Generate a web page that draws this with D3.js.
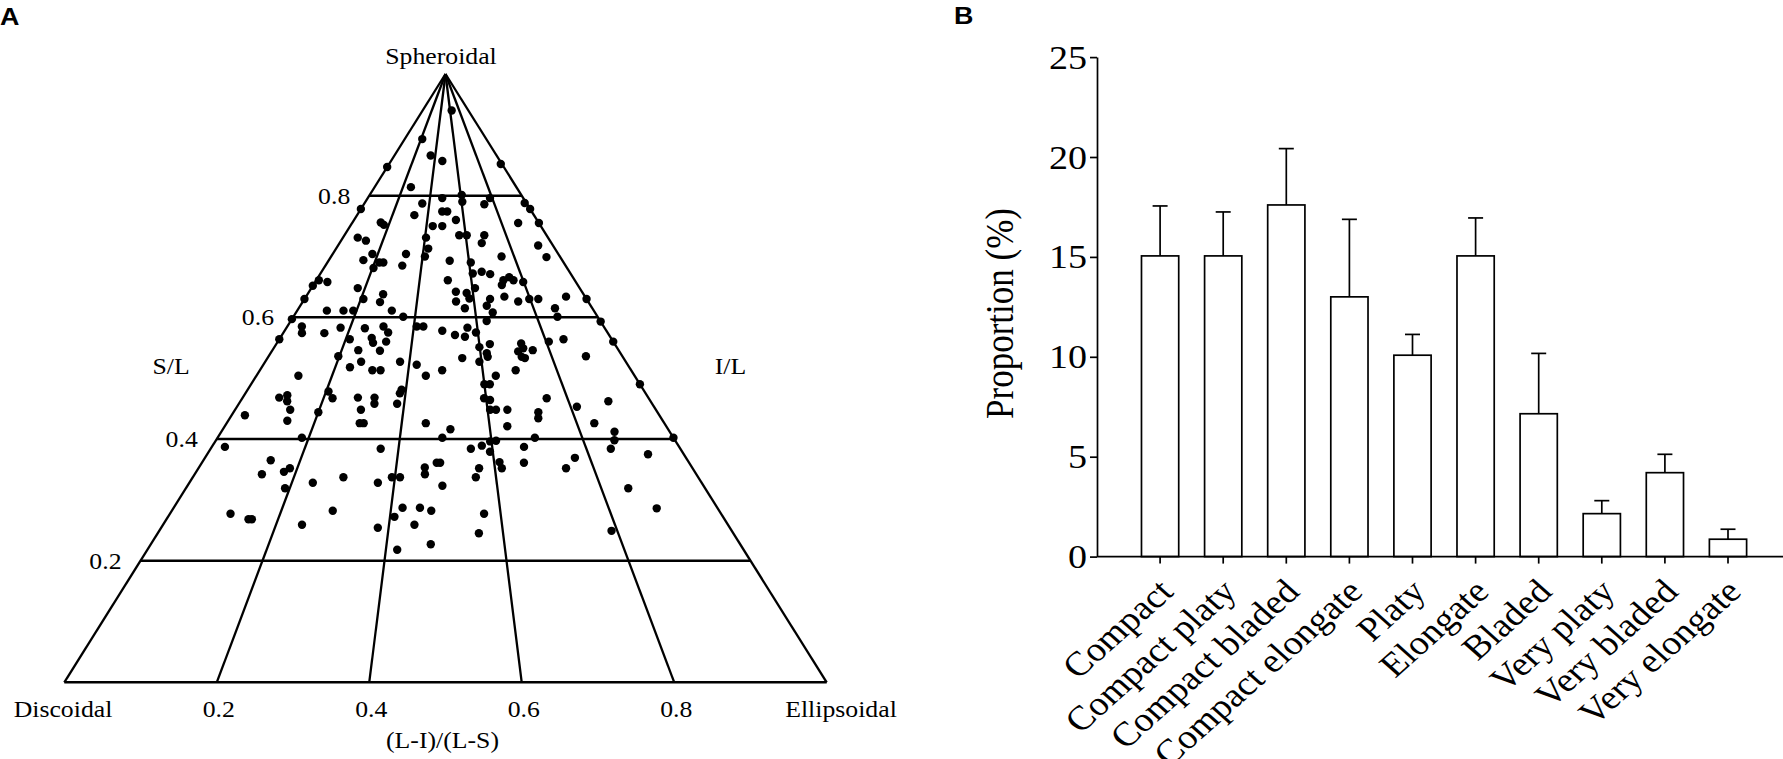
<!DOCTYPE html>
<html><head><meta charset="utf-8">
<script src="https://cdn.jsdelivr.net/npm/d3@7"></script>
<style>
body{margin:0;background:#fff}
svg{display:block}
text{font-family:"Liberation Serif","Times New Roman",serif;fill:#000}
</style>
</head><body>
<svg id="c" width="1783" height="759"></svg>
<script>
// ---------- Panel A data: [(L-I)/(L-S), S/L] ----------
const points = [
[0.215,0.893],[0.355,0.866],[0.471,0.857],[0.0,0.847],[0.256,0.814],[0.357,0.787],[0.479,0.796],[0.481,0.774],[0.510,0.774],[0.324,0.768],[0.0,0.778],[0.152,0.756],[0.174,0.752],[0.433,0.750],[0.483,0.750],[0.072,0.731],[0.119,0.726],[0.405,0.731],[0.421,0.713],[0.410,0.700],[0.176,0.704],[0.325,0.704],[0.148,0.694],[0.320,0.685],[0.220,0.690],[0.237,0.690],[0.204,0.681],[0.518,0.693],[0.509,0.661],[0.047,0.658],[0.010,0.661],[0.0,0.652],[0.0,0.630],[0.173,0.648],[0.274,0.638],[0.271,0.625],[0.209,0.630],[0.100,0.611],[0.156,0.611],[0.189,0.611],[0.319,0.611],[0.361,0.601],[0.0,0.597],
[0.635,0.940],[0.99,0.852],[0.607,0.801],[0.786,0.796],[0.605,0.790],[0.738,0.786],[0.99,0.788],[1.0,0.778],[0.557,0.760],[0.889,0.755],[1.0,0.755],[0.568,0.735],[0.605,0.735],[0.692,0.735],[0.671,0.722],[0.931,0.718],[0.940,0.699],[0.745,0.700],[0.607,0.690],[0.609,0.672],[0.646,0.675],[0.678,0.671],[0.724,0.661],[0.750,0.666],[0.763,0.661],[0.713,0.653],[0.798,0.658],[0.538,0.642],[0.577,0.640],[0.610,0.648],[0.585,0.631],[0.537,0.626],[0.566,0.615],[0.658,0.630],[0.642,0.619],[0.711,0.634],[0.755,0.626],[0.797,0.630],[0.829,0.630],[0.932,0.634],[1.0,0.630],[0.658,0.608],[0.873,0.615],[0.868,0.601],[0.633,0.594],[1.0,0.593],
[0.0,0.564],[0.046,0.585],[0.058,0.574],[0.127,0.574],[0.170,0.583],[0.212,0.564],[0.247,0.582],[0.277,0.566],[0.285,0.558],[0.304,0.585],[0.323,0.575],[0.323,0.560],[0.248,0.546],[0.311,0.545],[0.197,0.536],[0.266,0.527],[0.240,0.518],[0.303,0.513],[0.325,0.513],[0.374,0.527],[0.421,0.522],[0.448,0.504],[0.491,0.513],[0.409,0.585],[0.430,0.585],[0.490,0.578],[0.111,0.504],[0.090,0.468],[0.107,0.472],[0.114,0.462],[0.131,0.448],[0.136,0.430],[0.031,0.439],[0.206,0.478],[0.222,0.467],[0.200,0.444],[0.284,0.468],[0.325,0.468],[0.328,0.458],[0.299,0.448],[0.304,0.426],[0.313,0.426],[0.389,0.481],[0.386,0.475],[0.383,0.458],[0.455,0.426],[0.493,0.402],[0.511,0.416],[0.185,0.402],[0.028,0.387],[0.362,0.384],[0.139,0.365],[0.134,0.342],[0.176,0.346],[0.185,0.352],[0.191,0.319],[0.241,0.328],[0.298,0.337],[0.368,0.328],[0.394,0.337],[0.410,0.337],[0.458,0.353],[0.459,0.342],[0.482,0.361],[0.489,0.361],[0.494,0.323],[0.110,0.277],[0.147,0.268],[0.153,0.268],[0.294,0.282],[0.246,0.259],[0.381,0.254],[0.421,0.287],[0.408,0.272],[0.453,0.287],[0.474,0.282],[0.445,0.259],[0.475,0.227],[0.419,0.218],
[0.529,0.571],[0.559,0.568],[0.569,0.583],[0.594,0.575],[0.599,0.551],[0.631,0.556],[0.618,0.541],[0.619,0.535],[0.594,0.527],[0.547,0.533],[0.724,0.557],[0.726,0.549],[0.709,0.544],[0.715,0.535],[0.723,0.533],[0.752,0.546],[0.808,0.560],[0.855,0.564],[1.0,0.560],[0.897,0.536],[0.689,0.513],[0.633,0.504],[0.600,0.490],[0.614,0.490],[1.0,0.490],[0.595,0.467],[0.609,0.464],[0.749,0.467],[0.606,0.448],[0.620,0.448],[0.647,0.448],[0.719,0.444],[0.715,0.434],[0.815,0.453],[0.897,0.462],[0.840,0.426],[0.640,0.421],[0.877,0.412],[0.868,0.398],[0.696,0.402],[0.610,0.397],[0.597,0.396],[1.0,0.402],[0.578,0.389],[0.554,0.384],[0.594,0.379],[0.668,0.387],[0.852,0.384],[0.925,0.375],[0.769,0.369],[0.611,0.362],[0.614,0.352],[0.661,0.361],[0.568,0.352],[0.560,0.337],[0.744,0.352],[0.852,0.319],[0.888,0.286],[0.570,0.277],[0.558,0.245],[0.790,0.249]
];
const slTicks = [0.2, 0.4, 0.6, 0.8];
const baseTicks = [0.2, 0.4, 0.6, 0.8];
const radialValues = [0, 0.2, 0.4, 0.6, 0.8, 1];

// ---------- Panel B data ----------
const categories = ["Compact","Compact platy","Compact bladed","Compact elongate","Platy","Elongate","Bladed","Very platy","Very bladed","Very elongate"];
const proportion = [15.05, 15.05, 17.6, 13.0, 10.08, 15.05, 7.15, 2.15, 4.2, 0.87];
const errUpper   = [2.5, 2.2, 2.82, 3.88, 1.04, 1.9, 3.02, 0.65, 0.92, 0.5];
const yTicks = [0, 5, 10, 15, 20, 25];

const svg = d3.select("#c");
const SX = 1.12;
function label(x, y, txt, size, anchor, extra) {
  return svg.append("text")
    .attr("transform", `translate(${x},${y}) scale(${SX},1)` + (extra || ""))
    .attr("text-anchor", anchor)
    .style("font-size", size + "px")
    .text(txt);
}

// ---------- Panel A ----------
const tY = d3.scaleLinear().domain([0, 1]).range([682.3, 74]);
const tX = d3.scaleLinear().domain([0, 1]).range([64.3, 826.7]);
const apexX = tX(0.5);
const pos = (f, sl) => [apexX + (tX(f) - apexX) * (1 - sl), tY(sl)];

const gA = svg.append("g");
[0, ...slTicks].forEach(sl => {
  const a = pos(0, sl), b = pos(1, sl);
  gA.append("line").attr("x1", a[0]).attr("y1", a[1]).attr("x2", b[0]).attr("y2", b[1])
    .attr("stroke", "#000").attr("stroke-width", 2.5);
});
radialValues.forEach(f => {
  const a = pos(f, 1), b = pos(f, 0);
  gA.append("line").attr("x1", a[0]).attr("y1", a[1]).attr("x2", b[0]).attr("y2", b[1])
    .attr("stroke", "#000").attr("stroke-width", 2.3);
});
gA.selectAll("circle.pt").data(points).join("circle")
  .attr("class", "pt")
  .attr("cx", d => pos(d[0], d[1])[0])
  .attr("cy", d => pos(d[0], d[1])[1])
  .attr("r", 4.2).attr("fill", "#000");

slTicks.forEach(sl => label(pos(0, sl)[0] - 19, tY(sl) + 8, sl.toFixed(1), 23, "end"));
baseTicks.forEach(f => label(tX(f) + 2, 717, f.toFixed(1), 23, "middle"));
label(63, 717, "Discoidal", 23, "middle");
label(841, 717, "Ellipsoidal", 23, "middle");
label(442.5, 748, "(L-I)/(L-S)", 23, "middle");
label(441, 64, "Spheroidal", 23, "middle");
label(171, 374, "S/L", 23, "middle");
label(730.5, 374, "I/L", 23, "middle");

// ---------- Panel B ----------
const bx = d3.scaleBand().domain(categories).range([1128.55, 1759.55]).paddingInner(0.41).paddingOuter(0.205);
const by = d3.scaleLinear().domain([0, 25]).range([556.6, 57.1]);
const gB = svg.append("g");

gB.selectAll("rect.bar").data(categories).join("rect")
  .attr("class", "bar")
  .attr("x", c => bx(c)).attr("width", bx.bandwidth())
  .attr("y", (c, i) => by(proportion[i]))
  .attr("height", (c, i) => by(0) - by(proportion[i]))
  .attr("fill", "#fff").attr("stroke", "#000").attr("stroke-width", 1.7);

categories.forEach((c, i) => {
  const cx = bx(c) + bx.bandwidth() / 2;
  const top = by(proportion[i] + errUpper[i]);
  gB.append("line").attr("x1", cx).attr("x2", cx).attr("y1", by(proportion[i])).attr("y2", top)
    .attr("stroke", "#000").attr("stroke-width", 1.7);
  gB.append("line").attr("x1", cx - 7.5).attr("x2", cx + 7.5).attr("y1", top).attr("y2", top)
    .attr("stroke", "#000").attr("stroke-width", 1.7);
});

// y axis
const yAx = gB.append("g").attr("transform", "translate(1097,0)")
  .call(d3.axisLeft(by).tickValues(yTicks).tickSize(7).tickSizeOuter(0).tickPadding(2));
yAx.select(".domain").attr("stroke-width", 1.7);
yAx.selectAll(".tick line").attr("stroke-width", 1.7);
yAx.selectAll(".tick text")
  .attr("x", null).attr("dy", null)
  .attr("transform", `translate(-10,11) scale(${SX},1)`)
  .attr("text-anchor", "end")
  .style("font-family", '"Liberation Serif","Times New Roman",serif')
  .style("font-size", "34px");

// x axis
gB.append("line").attr("x1", 1097).attr("x2", 1783).attr("y1", by(0)).attr("y2", by(0))
  .attr("stroke", "#000").attr("stroke-width", 1.7);
const xAx = gB.append("g").attr("transform", `translate(0,${by(0)})`)
  .call(d3.axisBottom(bx).tickSize(7).tickSizeOuter(0));
xAx.select(".domain").remove();
xAx.selectAll(".tick line").attr("stroke-width", 1.7);
xAx.selectAll(".tick text")
  .attr("x", null).attr("y", null).attr("dy", null)
  .attr("transform", `translate(15,37) scale(${SX},1) rotate(-45)`)
  .attr("text-anchor", "end")
  .style("font-family", '"Liberation Serif","Times New Roman",serif')
  .style("font-size", "34px");

label(1013, 313.5, "Proportion (%)", 35, "middle", " rotate(-90)");

// panel letters
label(0, 25, "A", 24, "start").style("font-family", '"Liberation Sans",Arial,sans-serif').style("font-weight", "bold");
label(954, 24, "B", 24, "start").style("font-family", '"Liberation Sans",Arial,sans-serif').style("font-weight", "bold");
</script>
</body></html>
